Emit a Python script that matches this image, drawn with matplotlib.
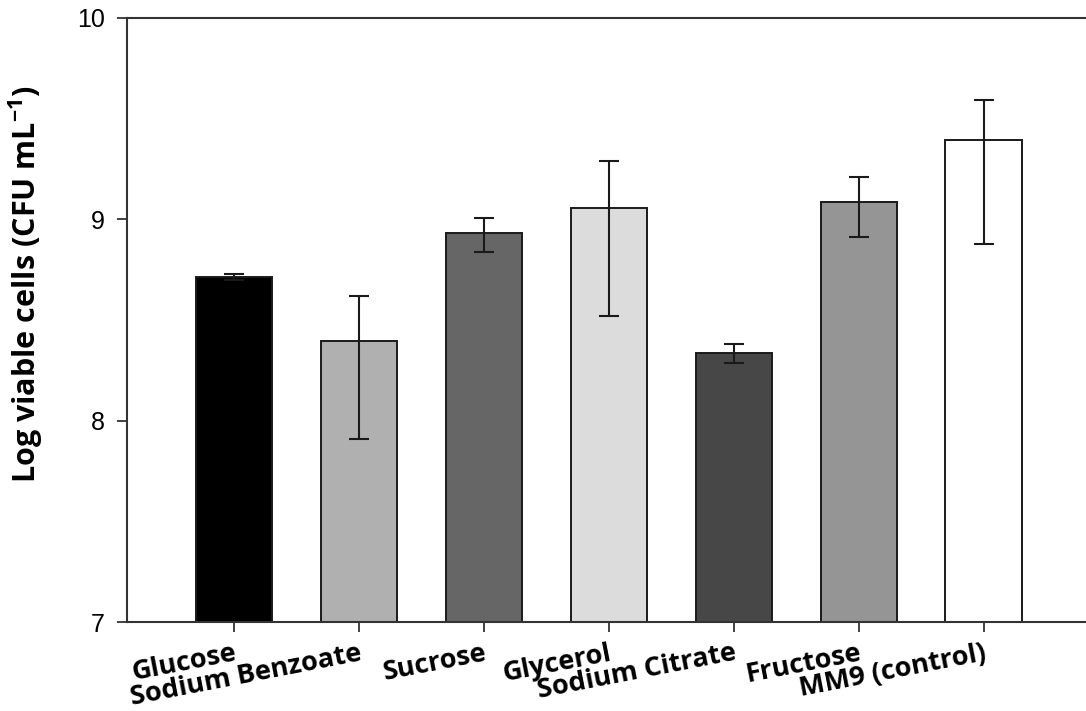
import numpy as np
import matplotlib.pyplot as plt

# Data
sources = ['Glucose', 'Sodium Benzoate', 'Sucrose', 'Glycerol',
           'Sodium Citrate', 'Fructose', 'MM9 (control)']
log_cells = [8.715, 8.397, 8.931, 9.055, 8.338, 9.085, 9.394]
err_low = [8.70, 7.907, 8.836, 8.521, 8.286, 8.912, 8.875]
err_high = [8.730, 8.618, 9.005, 9.288, 8.381, 9.209, 9.593]
bar_colors = ['#000000', '#b0b0b0', '#666666', '#dcdcdc',
              '#474747', '#959595', '#ffffff']

fig = plt.figure(figsize=(10.86, 7.11), dpi=100)
ax = fig.add_axes([127/1086, 89/711, 1 - 127/1086, 604/711])

x = np.arange(len(sources))
ax.bar(x, log_cells, width=0.61, bottom=0, color=bar_colors,
       edgecolor='#1a1a1a', linewidth=1.4, zorder=2)

yerr = [np.array(log_cells) - np.array(err_low),
        np.array(err_high) - np.array(log_cells)]
ax.errorbar(x, log_cells, yerr=yerr, fmt='none', ecolor='#1a1a1a',
            elinewidth=1.5, capsize=7.5, capthick=1.5, zorder=3)

ax.set_ylim(7, 10)
ax.set_xlim(-0.856, 6.82)
ax.set_yticks([7, 8, 9, 10])
ax.set_yticklabels(['7', '8', '9', '10'], fontfamily='Liberation Sans',
                   fontsize=18)
ax.set_xticks(x)
ax.set_xticklabels(sources, fontfamily='Open Sans', fontweight='bold',
                   fontsize=19.5, rotation=11, ha='right',
                   rotation_mode='anchor')

ax.tick_params(axis='y', direction='out', length=7, width=1.3, pad=9,
               color='#333333')
ax.tick_params(axis='x', direction='out', length=7, width=1.3, pad=6,
               color='#333333')

for side in ['left', 'bottom', 'top']:
    ax.spines[side].set_linewidth(1.5)
    ax.spines[side].set_color('#333333')
ax.spines['right'].set_visible(False)

ax.set_ylabel('Log viable cells (CFU mL$^{\\mathregular{-1}}$)',
              fontfamily='Open Sans', fontweight='bold', fontsize=22)
ax.yaxis.set_label_coords(-0.085, 0.56)

fig.savefig('out.png', dpi=100)
